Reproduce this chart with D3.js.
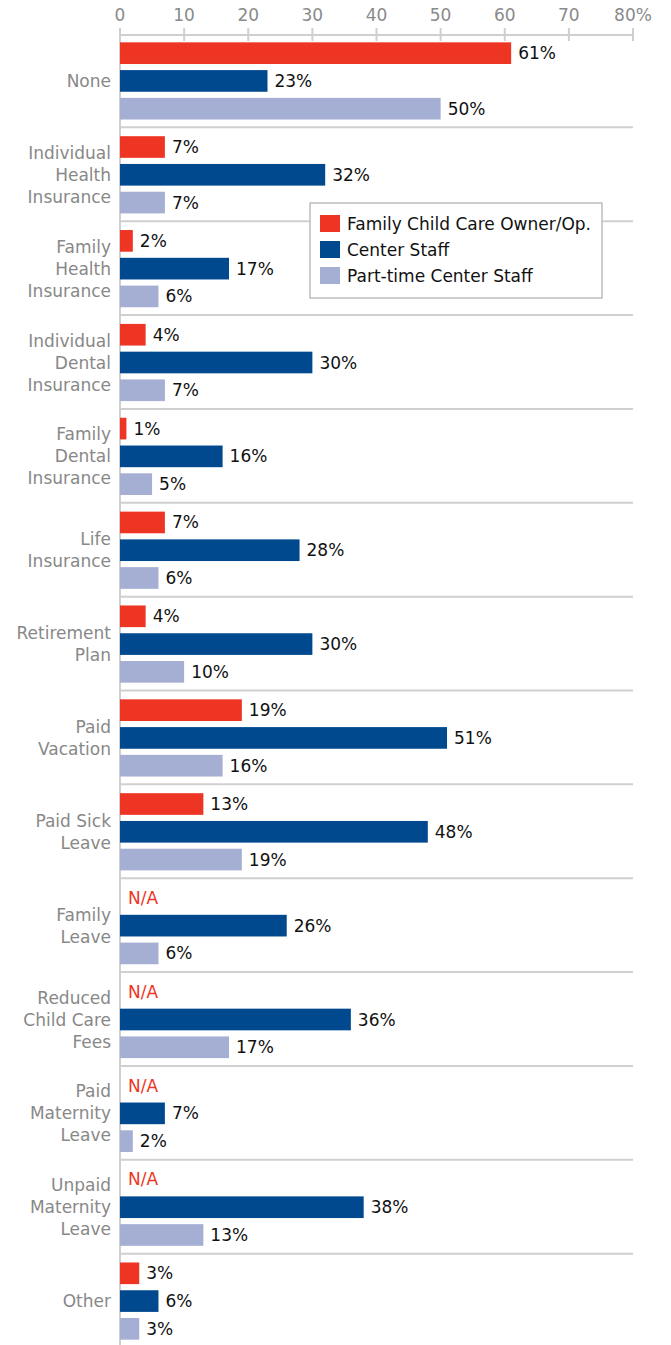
<!DOCTYPE html>
<html>
<head>
<meta charset="utf-8">
<script src="https://cdn.jsdelivr.net/npm/d3@7"></script>
<style>
  body { margin: 0; background: #fff; }
  svg text { font-family: "DejaVu Sans", sans-serif; }
</style>
</head>
<body>
<svg id="chart" width="671" height="1345"></svg>
<script>
// categories, split onto lines as in the original
var categories = [
  ["None"],
  ["Individual", "Health", "Insurance"],
  ["Family", "Health", "Insurance"],
  ["Individual", "Dental", "Insurance"],
  ["Family", "Dental", "Insurance"],
  ["Life", "Insurance"],
  ["Retirement", "Plan"],
  ["Paid", "Vacation"],
  ["Paid Sick", "Leave"],
  ["Family", "Leave"],
  ["Reduced", "Child Care", "Fees"],
  ["Paid", "Maternity", "Leave"],
  ["Unpaid", "Maternity", "Leave"],
  ["Other"]
];
var seriesNames = ["Family Child Care Owner/Op.", "Center Staff", "Part-time Center Staff"];
var familyOwner = [61, 7, 2, 4, 1, 7, 4, 19, 13, null, null, null, null, 3];
var centerStaff = [23, 32, 17, 30, 16, 28, 30, 51, 48, 26, 36, 7, 38, 6];
var partTime    = [50, 7, 6, 7, 5, 6, 10, 16, 19, 6, 17, 2, 13, 3];
var xTicks = [0, 10, 20, 30, 40, 50, 60, 70, 80];
var colors = ["#ee3524", "#00498f", "#a5aed3"];

var svg = d3.select("#chart");
var x = d3.scaleLinear().domain([0, 80]).range([120, 633]);
var y = d3.scaleBand().domain(d3.range(categories.length)).range([34, 1348]);
var sub = d3.scaleBand().domain([0, 1, 2]).range([0, y.bandwidth()]).paddingInner(0.22).paddingOuter(0.3);

// top axis
var axisY = 35;
svg.append("line").attr("x1", x(0)).attr("x2", x(80)).attr("y1", axisY).attr("y2", axisY)
  .attr("stroke", "#cfcfcf").attr("stroke-width", 2);
svg.selectAll(".tick").data(xTicks).enter().append("line")
  .attr("x1", function (d) { return x(d); }).attr("x2", function (d) { return x(d); })
  .attr("y1", 28).attr("y2", 41)
  .attr("stroke", "#cfcfcf").attr("stroke-width", 2);
svg.selectAll(".tickLabel").data(xTicks).enter().append("text")
  .attr("x", function (d) { return x(d); }).attr("y", 21)
  .attr("text-anchor", "middle").attr("fill", "#8a8a8a").attr("font-size", 17)
  .text(function (d) { return d == 80 ? "80%" : d; });

// separators between groups
svg.selectAll(".sep").data(d3.range(1, categories.length)).enter().append("line")
  .attr("x1", x(0)).attr("x2", x(80))
  .attr("y1", function (i) { return y(i) - 0.5; }).attr("y2", function (i) { return y(i) - 0.5; })
  .attr("stroke", "#d0d0d0").attr("stroke-width", 2);

// vertical baseline
svg.append("line").attr("x1", x(0)).attr("x2", x(0)).attr("y1", axisY).attr("y2", 1345)
  .attr("stroke", "#cfcfcf").attr("stroke-width", 2);

// category labels
categories.forEach(function (lines, i) {
  var cy = y(i) + y.bandwidth() / 2;
  var t = svg.append("text").attr("text-anchor", "end").attr("fill", "#888888").attr("font-size", 17);
  lines.forEach(function (l, k) {
    t.append("tspan").attr("x", 111)
      .attr("y", cy + (k - (lines.length - 1) / 2) * 22 + 6)
      .text(l);
  });
});

// bars
var series = [familyOwner, centerStaff, partTime];
series.forEach(function (vals, s) {
  var g = svg.append("g");
  vals.forEach(function (v, i) {
    var by = y(i) + sub(s);
    if (v == null) {
      g.append("text").attr("x", x(0) + 8).attr("y", by + sub.bandwidth() / 2 + 6)
        .attr("fill", colors[0]).attr("font-size", 17).text("N/A");
      return;
    }
    g.append("rect").attr("x", x(0)).attr("y", by)
      .attr("width", x(v) - x(0)).attr("height", sub.bandwidth())
      .attr("fill", colors[s]);
    g.append("text").attr("x", x(v) + 7).attr("y", by + sub.bandwidth() / 2 + 6)
      .attr("fill", "#111").attr("font-size", 17).text(v + "%");
  });
});

// legend
var lg = svg.append("g").attr("transform", "translate(310,203)");
lg.append("rect").attr("width", 292).attr("height", 95).attr("fill", "#fff")
  .attr("stroke", "#bdbdbd").attr("stroke-width", 1.5);
seriesNames.forEach(function (n, i) {
  lg.append("rect").attr("x", 10).attr("y", 12 + i * 26).attr("width", 20).attr("height", 17).attr("fill", colors[i]);
  lg.append("text").attr("x", 37).attr("y", 27 + i * 26).attr("font-size", 17).attr("fill", "#111").text(n);
});
</script>
</body>
</html>
